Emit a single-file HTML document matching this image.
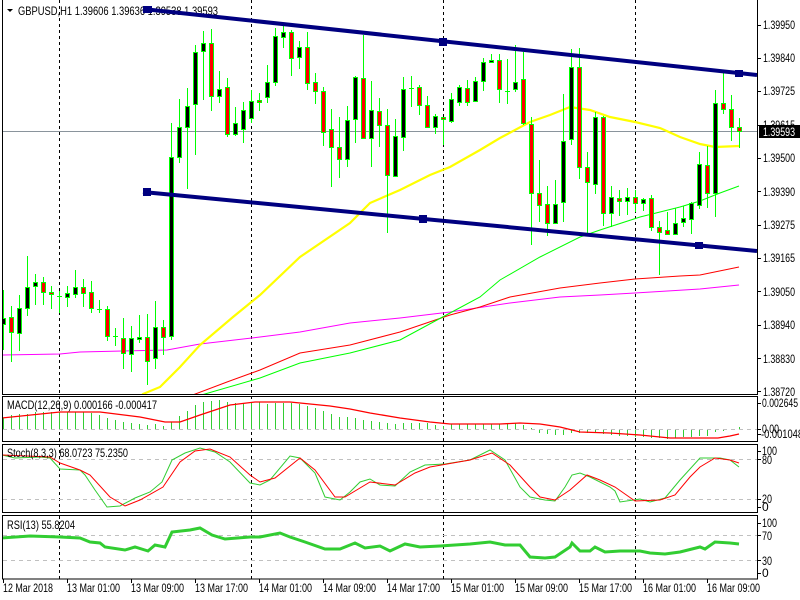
<!DOCTYPE html>
<html><head><meta charset="utf-8"><style>
html,body{margin:0;padding:0;background:#fff;width:800px;height:600px;overflow:hidden}
svg{display:block}
text{font-family:"Liberation Sans",sans-serif;font-size:12px;fill:#000}
</style></head><body>
<svg width="800" height="600" viewBox="0 0 800 600" xmlns="http://www.w3.org/2000/svg">
<defs>
<clipPath id="cm"><rect x="3" y="0" width="754" height="394"/></clipPath>
<clipPath id="c1"><rect x="3" y="397" width="754" height="44"/></clipPath>
<clipPath id="c2"><rect x="3" y="445" width="754" height="67"/></clipPath>
<clipPath id="c3"><rect x="3" y="516" width="754" height="63"/></clipPath>
</defs>
<rect width="800" height="600" fill="#fff"/>

<g stroke="#000" stroke-width="1" stroke-dasharray="3,3" shape-rendering="crispEdges">
<path d="M59.5 0V579M251.5 0V579M443.5 0V579M635.5 0V579"/>
</g>

<g stroke="#c0c0c0" stroke-width="1" stroke-dasharray="4,4" shape-rendering="crispEdges">
<path d="M3 429.5H757M3 459.5H757M3 499.5H757M3 535.5H757M3 560.5H757"/>
</g>

<polygon points="7,9 13,9 10,12" fill="#000"/>
<text x="18" y="15" textLength="200" lengthAdjust="spacingAndGlyphs">GBPUSD,H1  1.39606 1.39636 1.39538 1.39593</text>

<g clip-path="url(#cm)">
<path d="M3 131.5H757" stroke="#8a949c" stroke-width="1" shape-rendering="crispEdges"/>
<polyline fill="none" stroke="#ff00ff" stroke-width="1" points="2,355 60,354 80,352 167,350 200,344 260,337 300,332 350,323 400,318 450,312 510,303 560,297 600,295 635,293 700,289 739,285"/>
<polyline fill="none" stroke="#ff0000" stroke-width="1" points="190,396 227,382 260,370 300,353 350,345 400,332 450,315 480,307 510,297 560,288 600,283 635,279 680,276 700,275 739,267"/>
<polyline fill="none" stroke="#00ff00" stroke-width="1" points="198,396 260,378 300,363 350,353 400,340 450,313 480,297 500,280 540,257 580,237 600,230 640,217 680,207 700,201 720,193 739,186"/>
<polyline fill="none" stroke="#ffff00" stroke-width="2.2" points="138,400 143,394 160,387 180,367 200,345 233,317 260,295 300,257 350,223 370,203 400,190 430,175 450,167 480,150 500,138 530,122 550,115 570,107 590,110 610,117 635,122 660,128 680,137 700,144 715,147 739,146"/>

<path stroke="#00ff00" stroke-width="1" fill="none" shape-rendering="crispEdges" d="M3.5 290V350M11.5 306V362M19.5 295V351M27.5 256V316M35.5 274V305M43.5 277V305M51.5 286V309M59.5 291V313M67.5 286V307M75.5 270V298M83.5 279V307M91.5 281V313M99.5 300V313M107.5 306V341M115.5 328V346M123.5 318V369M131.5 326V372M139.5 315V343M147.5 314V385M155.5 301V369M163.5 320V355M171.5 123V340M179.5 99V163M187.5 88V189M195.5 45V155M203.5 31V100M211.5 29V111M219.5 71V103M227.5 78V137M235.5 107V136M243.5 102V143M251.5 90V123M259.5 93V111M267.5 65V103M275.5 28V86M283.5 23V48M291.5 30V76M299.5 41V69M307.5 32V90M315.5 73V104M323.5 87V146M331.5 109V187M339.5 117V178M347.5 106V167M355.5 76V143M363.5 35V138M371.5 81V167M379.5 98V147M387.5 109V233M395.5 119V177M403.5 77V151M411.5 76V107M419.5 85V115M427.5 96V127M435.5 114V134M443.5 117V145M451.5 93V123M459.5 85V106M467.5 80V106M475.5 77V101M483.5 58V91M491.5 54V63M499.5 54V103M507.5 59V104M515.5 45V92M523.5 52V125M531.5 117V245M539.5 160V222M547.5 186V236M555.5 180V224M563.5 94V222M571.5 49V145M579.5 48V179M587.5 152V233M595.5 112V194M603.5 116V226M611.5 186V227M619.5 190V216M627.5 188V215M635.5 190V212M643.5 198V211M651.5 195V231M659.5 221V275M667.5 212V235M675.5 208V235M683.5 206V227M691.5 202V234M699.5 152V209M707.5 146V208M715.5 90V217M723.5 70V114M731.5 95V141M739.5 118V148"/>
<path stroke="#00ff00" stroke-width="1" fill="none" shape-rendering="crispEdges" d="M57 296.5h5M97 309.5h5M113 336.5h5M409 88.5h5M505 91.5h5"/>
<path fill="#000" stroke="#00ff00" stroke-width="1" shape-rendering="crispEdges" d="M1.5 318.5h4v6h-4zM17.5 308.5h4v25h-4zM25.5 287.5h4v21h-4zM33.5 282.5h4v4h-4zM65.5 293.5h4v4h-4zM73.5 287.5h4v7h-4zM129.5 338.5h4v16h-4zM137.5 337.5h4v2h-4zM153.5 327.5h4v31h-4zM169.5 157.5h4v179h-4zM177.5 127.5h4v30h-4zM185.5 106.5h4v21h-4zM193.5 52.5h4v52h-4zM201.5 43.5h4v8h-4zM217.5 89.5h4v7h-4zM233.5 123.5h4v11h-4zM241.5 110.5h4v19h-4zM249.5 101.5h4v17h-4zM265.5 82.5h4v15h-4zM273.5 36.5h4v46h-4zM281.5 32.5h4v5h-4zM297.5 47.5h4v10h-4zM345.5 120.5h4v39h-4zM353.5 77.5h4v42h-4zM369.5 110.5h4v28h-4zM393.5 136.5h4v40h-4zM401.5 89.5h4v48h-4zM433.5 116.5h4v11h-4zM449.5 99.5h4v22h-4zM457.5 87.5h4v15h-4zM473.5 81.5h4v20h-4zM481.5 62.5h4v19h-4zM489.5 60.5h4v2h-4zM513.5 82.5h4v7h-4zM553.5 204.5h4v19h-4zM561.5 141.5h4v61h-4zM569.5 67.5h4v72h-4zM593.5 117.5h4v67h-4zM609.5 197.5h4v16h-4zM625.5 197.5h4v4h-4zM641.5 199.5h4v4h-4zM673.5 223.5h4v11h-4zM681.5 218.5h4v4h-4zM689.5 203.5h4v16h-4zM697.5 164.5h4v41h-4zM713.5 103.5h4v90h-4z"/>
<path fill="#ff0000" stroke="#00ff00" stroke-width="1" shape-rendering="crispEdges" d="M9.5 317.5h4v15h-4zM41.5 282.5h4v10h-4zM49.5 292.5h4v2h-4zM81.5 287.5h4v6h-4zM89.5 292.5h4v16h-4zM105.5 309.5h4v27h-4zM121.5 338.5h4v15h-4zM145.5 337.5h4v24h-4zM161.5 327.5h4v10h-4zM209.5 43.5h4v53h-4zM225.5 87.5h4v47h-4zM257.5 100.5h4v2h-4zM289.5 32.5h4v26h-4zM305.5 47.5h4v36h-4zM313.5 82.5h4v9h-4zM321.5 91.5h4v41h-4zM329.5 129.5h4v18h-4zM337.5 147.5h4v12h-4zM361.5 78.5h4v60h-4zM377.5 111.5h4v14h-4zM385.5 125.5h4v50h-4zM417.5 87.5h4v18h-4zM425.5 105.5h4v22h-4zM441.5 117.5h4v2h-4zM465.5 88.5h4v14h-4zM497.5 60.5h4v29h-4zM521.5 79.5h4v44h-4zM529.5 124.5h4v69h-4zM537.5 193.5h4v12h-4zM545.5 204.5h4v19h-4zM577.5 67.5h4v100h-4zM585.5 167.5h4v15h-4zM601.5 117.5h4v96h-4zM617.5 198.5h4v3h-4zM633.5 197.5h4v6h-4zM649.5 198.5h4v29h-4zM657.5 227.5h4v5h-4zM665.5 230.5h4v4h-4zM705.5 165.5h4v28h-4zM721.5 103.5h4v6h-4zM729.5 109.5h4v18h-4zM737.5 127.5h4v4h-4z"/>

<g stroke="#000080" stroke-width="4" fill="none">
<line x1="143" y1="9" x2="757" y2="75"/>
<line x1="143" y1="192" x2="757" y2="251"/>
</g>
<g fill="#000080" shape-rendering="crispEdges">
<rect x="143" y="6" width="9" height="7"/>
<rect x="439" y="38" width="8" height="8"/>
<rect x="735" y="70" width="8" height="7"/>
<rect x="143" y="188" width="8" height="8"/>
<rect x="419" y="215" width="8" height="8"/>
<rect x="695" y="242" width="8" height="7"/>
</g>
</g>

<g clip-path="url(#c1)">
<path stroke="#32cd32" stroke-width="1" fill="none" shape-rendering="crispEdges" d="M3.5 429V418M11.5 429V415M19.5 429V414M27.5 429V414M35.5 429V412M43.5 429V412M51.5 429V412M59.5 429V412M67.5 429V412M75.5 429V412M83.5 429V412M91.5 429V413M99.5 429V415M107.5 429V418M115.5 429V420M123.5 429V422M131.5 429V423M139.5 429V424M147.5 429V425M155.5 429V424M163.5 429V426M171.5 429V422M179.5 429V416M187.5 429V411M195.5 429V405M203.5 429V402M211.5 429V401M219.5 429V400M227.5 429V402M235.5 429V403M243.5 429V403M251.5 429V402M259.5 429V402M267.5 429V404M275.5 429V403M283.5 429V403M291.5 429V403M299.5 429V404M307.5 429V406M315.5 429V408M323.5 429V411M331.5 429V414M339.5 429V417M347.5 429V417M355.5 429V418M363.5 429V420M371.5 429V421M379.5 429V422M387.5 429V423M395.5 429V424M403.5 429V423M411.5 429V423M419.5 429V423M427.5 429V423M435.5 429V425M443.5 429V426M451.5 429V424M459.5 429V424M467.5 429V424M475.5 429V424M483.5 429V424M491.5 429V424M499.5 429V424M507.5 429V423M515.5 429V423M523.5 429V425M531.5 429V428M539.5 430V433M547.5 430V434M555.5 430V435M563.5 430V435M571.5 430V433M579.5 430V433M587.5 430V433M595.5 430V433M603.5 430V434M611.5 430V435M619.5 430V436M627.5 430V436M635.5 430V437M643.5 430V437M651.5 430V438M659.5 430V438M667.5 430V439M675.5 430V438M683.5 430V437M691.5 430V437M699.5 430V436M707.5 430V436M715.5 430V432M723.5 430V431M739.5 429V427"/>
<polyline fill="none" stroke="#ff0000" stroke-width="1.3" points="2,418 60,412 100,412 140,417 165,422 180,422 200,415 230,405 255,402 290,402 310,404 330,406 350,409 370,413 400,418 430,422 450,424 500,424 520,423 540,424 560,427 580,432 610,433 640,435 670,438 700,438 718,438 730,436 739,434"/>
</g>
<text x="7" y="409" textLength="150" lengthAdjust="spacingAndGlyphs">MACD(12,26,9) 0.000166 -0.000417</text>

<g clip-path="url(#c2)" fill="none" stroke-width="1">
<polyline stroke="#32cd32" points="2,455 15,458 40,457 50,458 60,469 80,470 85,475 95,490 107,507 120,506 135,498 150,492 162,482 172,460 185,453 200,448 215,452 230,462 250,483 260,485 270,480 290,456 300,458 315,473 325,497 340,500 350,492 360,482 370,479 380,485 395,486 410,472 425,465 445,464 470,460 490,450 505,460 520,487 530,497 545,500 555,501 565,487 572,475 580,473 590,477 610,487 615,491 620,502 640,499 650,502 665,498 680,480 700,458 720,458 730,460 739,467"/>
<polyline stroke="#ff0000" points="2,455 50,457 60,463 80,470 90,475 110,497 125,506 140,500 163,487 180,462 195,451 210,449 230,457 250,475 260,482 275,478 300,458 315,470 335,497 345,497 370,482 395,485 415,473 430,467 470,460 492,453 510,465 530,487 540,497 555,500 570,490 587,475 600,480 615,487 635,501 660,500 675,495 690,477 700,467 715,458 730,460 739,463"/>
</g>
<text x="7" y="457" textLength="121" lengthAdjust="spacingAndGlyphs">Stoch(8,3,3) 68.0723 75.2350</text>

<g clip-path="url(#c3)">
<polyline fill="none" stroke="#32cd32" stroke-width="3" points="2,538 30,536 60,537 80,538 90,542 100,543 105,547 125,550 135,547 148,551 155,545 165,547 172,532 190,530 200,528 212,535 225,539 250,537 260,537 280,533 290,537 305,542 325,549 340,549 355,543 365,548 380,546 390,551 405,544 420,547 440,546 470,544 490,542 505,545 520,545 530,557 545,558 555,557 570,547 572,543 580,551 590,551 595,547 605,552 620,551 640,551 650,553 665,554 680,552 700,547 705,549 715,542 730,543 739,544"/>
</g>
<text x="7" y="529" textLength="68" lengthAdjust="spacingAndGlyphs">RSI(13) 55.8204</text>

<g fill="none" stroke="#000" stroke-width="1" shape-rendering="crispEdges">
<path d="M2.5 0V394.5H757.5V0"/>
<rect x="2.5" y="396.5" width="755" height="45"/>
<rect x="2.5" y="444.5" width="755" height="68"/>
<rect x="2.5" y="515.5" width="755" height="63.5"/>
<path d="M758 25.5h3M758 58.5h3M758 91.5h3M758 125.5h3M758 158.5h3M758 191.5h3M758 225.5h3M758 258.5h3M758 291.5h3M758 325.5h3M758 358.5h3M758 391.5h3M758 403.5h3M758 429.5h3M758 434.5h3M758 451.5h3M758 459.5h3M758 499.5h3M758 507.5h3M758 523.5h3M758 535.5h3M758 560.5h3M758 573.5h3"/>
<path d="M3.5 579V583M67.5 579V583M131.5 579V583M195.5 579V583M259.5 579V583M323.5 579V583M387.5 579V583M451.5 579V583M515.5 579V583M579.5 579V583M643.5 579V583M707.5 579V583"/>
</g>

<g>
<text x="763" y="29" textLength="32" lengthAdjust="spacingAndGlyphs">1.39950</text>
<text x="763" y="62" textLength="32" lengthAdjust="spacingAndGlyphs">1.39840</text>
<text x="763" y="95" textLength="32" lengthAdjust="spacingAndGlyphs">1.39725</text>
<text x="763" y="129" textLength="32" lengthAdjust="spacingAndGlyphs">1.39615</text>
<text x="763" y="162" textLength="32" lengthAdjust="spacingAndGlyphs">1.39500</text>
<text x="763" y="196" textLength="32" lengthAdjust="spacingAndGlyphs">1.39390</text>
<text x="763" y="229" textLength="32" lengthAdjust="spacingAndGlyphs">1.39275</text>
<text x="763" y="262" textLength="32" lengthAdjust="spacingAndGlyphs">1.39165</text>
<text x="763" y="296" textLength="32" lengthAdjust="spacingAndGlyphs">1.39050</text>
<text x="763" y="329" textLength="32" lengthAdjust="spacingAndGlyphs">1.38940</text>
<text x="763" y="363" textLength="32" lengthAdjust="spacingAndGlyphs">1.38830</text>
<text x="763" y="396" textLength="32" lengthAdjust="spacingAndGlyphs">1.38720</text>
</g>
<rect x="759" y="125" width="41" height="13" fill="#000"/>
<text x="763" y="136" textLength="32" lengthAdjust="spacingAndGlyphs" style="fill:#fff">1.39593</text>

<text x="762" y="407" textLength="36" lengthAdjust="spacingAndGlyphs">0.002645</text>
<text x="762" y="433" textLength="17" lengthAdjust="spacingAndGlyphs">0.00</text>
<text x="761" y="438" textLength="42" lengthAdjust="spacingAndGlyphs">-0.001048</text>
<text x="762" y="455" textLength="15" lengthAdjust="spacingAndGlyphs">100</text>
<text x="762" y="464" textLength="10" lengthAdjust="spacingAndGlyphs">80</text>
<text x="762" y="503" textLength="10" lengthAdjust="spacingAndGlyphs">20</text>
<text x="762" y="511">0</text>
<text x="762" y="527" textLength="15" lengthAdjust="spacingAndGlyphs">100</text>
<text x="762" y="540" textLength="10" lengthAdjust="spacingAndGlyphs">70</text>
<text x="762" y="565" textLength="10" lengthAdjust="spacingAndGlyphs">30</text>
<text x="762" y="577">0</text>

<g>
<text x="3" y="592" textLength="50" lengthAdjust="spacingAndGlyphs">12 Mar 2018</text>
<text x="67" y="592" textLength="53" lengthAdjust="spacingAndGlyphs">13 Mar 01:00</text>
<text x="131" y="592" textLength="53" lengthAdjust="spacingAndGlyphs">13 Mar 09:00</text>
<text x="195" y="592" textLength="53" lengthAdjust="spacingAndGlyphs">13 Mar 17:00</text>
<text x="259" y="592" textLength="53" lengthAdjust="spacingAndGlyphs">14 Mar 01:00</text>
<text x="323" y="592" textLength="53" lengthAdjust="spacingAndGlyphs">14 Mar 09:00</text>
<text x="387" y="592" textLength="53" lengthAdjust="spacingAndGlyphs">14 Mar 17:00</text>
<text x="451" y="592" textLength="53" lengthAdjust="spacingAndGlyphs">15 Mar 01:00</text>
<text x="515" y="592" textLength="53" lengthAdjust="spacingAndGlyphs">15 Mar 09:00</text>
<text x="579" y="592" textLength="53" lengthAdjust="spacingAndGlyphs">15 Mar 17:00</text>
<text x="643" y="592" textLength="53" lengthAdjust="spacingAndGlyphs">16 Mar 01:00</text>
<text x="707" y="592" textLength="53" lengthAdjust="spacingAndGlyphs">16 Mar 09:00</text>
</g>
</svg>
</body></html>
